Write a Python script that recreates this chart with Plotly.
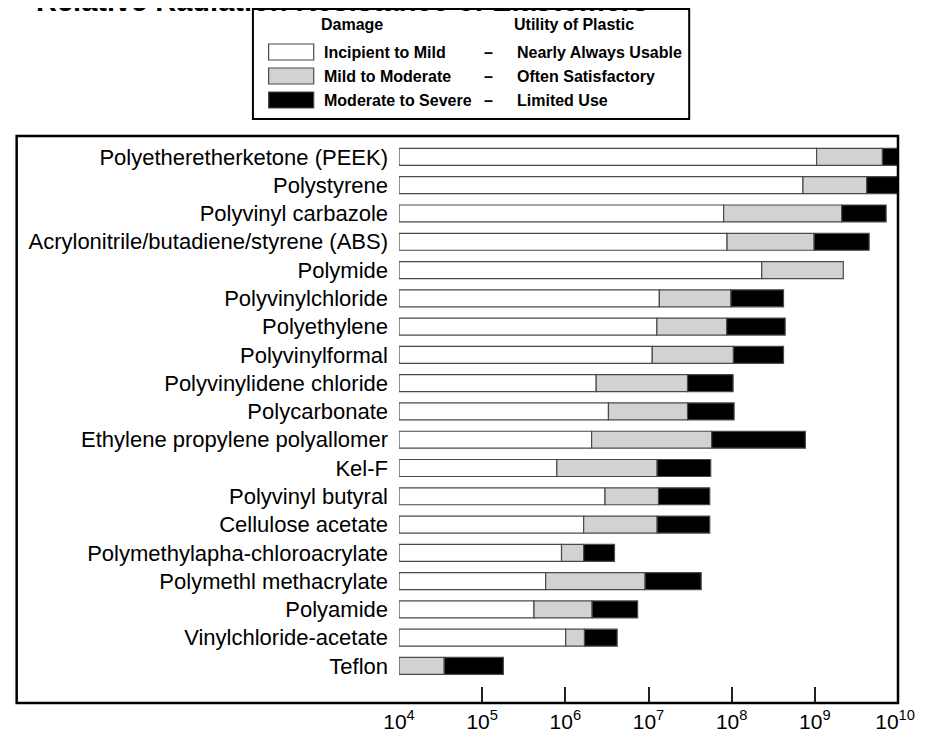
import plotly.graph_objects as go

materials = [
    "Polyetheretherketone (PEEK)", "Polystyrene", "Polyvinyl carbazole",
    "Acrylonitrile/butadiene/styrene (ABS)", "Polymide", "Polyvinylchloride",
    "Polyethylene", "Polyvinylformal", "Polyvinylidene chloride", "Polycarbonate",
    "Ethylene propylene polyallomer", "Kel-F", "Polyvinyl butyral", "Cellulose acetate",
    "Polymethylapha-chloroacrylate", "Polymethl methacrylate", "Polyamide",
    "Vinylchloride-acetate", "Teflon",
]
# dose (rads) where each damage zone ends
mild_end = [1.05e9, 7.2e8, 8.0e7, 8.8e7, 2.3e8, 1.35e7, 1.26e7, 1.11e7, 2.35e6, 3.3e6,
            2.07e6, 7.9e5, 3.0e6, 1.66e6, 9.0e5, 5.8e5, 4.2e5, 1.01e6, None]
moderate_end = [6.5e9, 4.2e9, 2.1e9, 9.8e8, 2.2e9, 9.8e7, 8.7e7, 1.05e8, 2.95e7, 2.95e7,
                5.75e7, 1.27e7, 1.32e7, 1.27e7, 1.66e6, 9.1e6, 2.1e6, 1.7e6, 3.5e4]
severe_end = [1.0e10, 1.0e10, 7.2e9, 4.5e9, None, 4.2e8, 4.4e8, 4.2e8, 1.04e8, 1.07e8,
              7.7e8, 5.6e7, 5.45e7, 5.45e7, 3.9e6, 4.3e7, 7.4e6, 4.2e6, 1.8e5]
axis_start = 1e4
tick_vals = [1e4, 1e5, 1e6, 1e7, 1e8, 1e9, 1e10]
tick_text = ["10<sup>4</sup>", "10<sup>5</sup>", "10<sup>6</sup>", "10<sup>7</sup>",
             "10<sup>8</sup>", "10<sup>9</sup>", "10<sup>10</sup>\u00a0"]
legend_damage = ["Incipient to Mild", "Mild to Moderate", "Moderate to Severe"]
legend_utility = ["Nearly Always Usable", "Often Satisfactory", "Limited Use"]

WHITE, GREY, BLACK = "#ffffff", "#d1d2d4", "#000000"
OUTLINE = "#4a4a4a"

# segment bases / lengths
w_base, w_len, g_base, g_len, b_base, b_len = [], [], [], [], [], []
for m, g, s in zip(mild_end, moderate_end, severe_end):
    if m is None:
        w_base.append(None); w_len.append(None)
        g_base.append(axis_start); g_len.append(g - axis_start)
    else:
        w_base.append(axis_start); w_len.append(m - axis_start)
        g_base.append(m); g_len.append(g - m)
    if s is None:
        b_base.append(None); b_len.append(None)
    else:
        b_base.append(g); b_len.append(s - g)

fig = go.Figure()
for base, length, col in [(w_base, w_len, WHITE), (g_base, g_len, GREY), (b_base, b_len, BLACK)]:
    fig.add_trace(go.Bar(
        y=materials, x=length, base=base, orientation="h", width=0.6,
        marker=dict(color=col, line=dict(color=OUTLINE, width=1.2)),
        showlegend=False, hoverinfo="skip",
    ))

W, H = 925, 740
OFF = 8  # page body margin: screenshot coords = figure coords + 8
L, R, T, B = 399 - OFF, 908 - OFF, 136 - OFF, 703 - OFF


def px(x):  # screenshot x -> paper
    return (x - OFF - L) / (R - L)


def py(y):  # screenshot y -> paper
    return (B - (y - OFF)) / (B - T)


shapes = []
# plot border box
shapes.append(dict(type="rect", xref="paper", yref="paper", x0=px(9), x1=px(908),
                   y0=0, y1=1, line=dict(color="black", width=2.5), layer="above"))
# legend box
shapes.append(dict(type="rect", xref="paper", yref="paper", x0=px(250), x1=px(695),
                   y0=py(119), y1=py(9), line=dict(color="black", width=2),
                   fillcolor="white"))
annotations = []
LF = "Liberation Sans, Arial, sans-serif"
lfont = dict(family=LF, size=16, color="black")
annotations.append(dict(xref="paper", yref="paper", x=px(351), y=py(25), text="<b>Damage</b>",
                        showarrow=False, font=lfont, xanchor="center", yanchor="middle"))
annotations.append(dict(xref="paper", yref="paper", x=px(578), y=py(25),
                        text="<b>Utility of Plastic</b>", showarrow=False, font=lfont,
                        xanchor="center", yanchor="middle"))
for i, (dmg, util, col) in enumerate(zip(legend_damage, legend_utility, [WHITE, GREY, BLACK])):
    yc = 52 + 24 * i
    shapes.append(dict(type="rect", xref="paper", yref="paper", x0=px(266), x1=px(312),
                       y0=py(yc + 8), y1=py(yc - 8), fillcolor=col,
                       line=dict(color=OUTLINE, width=1.2)))
    annotations.append(dict(xref="paper", yref="paper", x=px(320), y=py(yc), text=f"<b>{dmg}</b>",
                            showarrow=False, font=lfont, xanchor="left", yanchor="middle"))
    annotations.append(dict(xref="paper", yref="paper", x=px(490), y=py(yc), text="<b>–</b>",
                            showarrow=False, font=lfont, xanchor="center", yanchor="middle"))
    annotations.append(dict(xref="paper", yref="paper", x=px(517), y=py(yc), text=f"<b>{util}</b>",
                            showarrow=False, font=lfont, xanchor="left", yanchor="middle"))
# title (partially cut off at the top, as in the reference)
annotations.append(dict(xref="paper", yref="paper", x=px(341), y=py(19),
                        text="<b>Relative Radiation Resistance of Elastomers</b>",
                        showarrow=False, xanchor="center", yanchor="bottom",
                        font=dict(family="Liberation Sans, Arial, sans-serif", size=29,
                                  color="black")))

fig.update_layout(
    width=W, height=H,
    margin=dict(l=L, r=W - R, t=T, b=H - B),
    paper_bgcolor="white", plot_bgcolor="white",
    barmode="overlay", bargap=0.4,
    shapes=shapes, annotations=annotations,
    font=dict(family="Liberation Sans, Arial, sans-serif", color="black"),
    xaxis=dict(type="log", range=[4, 10], tickvals=tick_vals, ticktext=tick_text,
               ticks="inside", ticklen=16, tickwidth=1.5, tickcolor="#222",
               showgrid=False, zeroline=False, showline=False,
               ticklabeloverflow="allow", ticklabelstandoff=4,
               tickfont=dict(size=21, color="black")),
    yaxis=dict(type="category", categoryorder="array", categoryarray=materials,
               range=[19.31, -0.74], showgrid=False, zeroline=False, showline=False,
               ticks="", ticklabelstandoff=10,
               tickfont=dict(size=22, color="black")),
)

fig.write_html("out.html")
